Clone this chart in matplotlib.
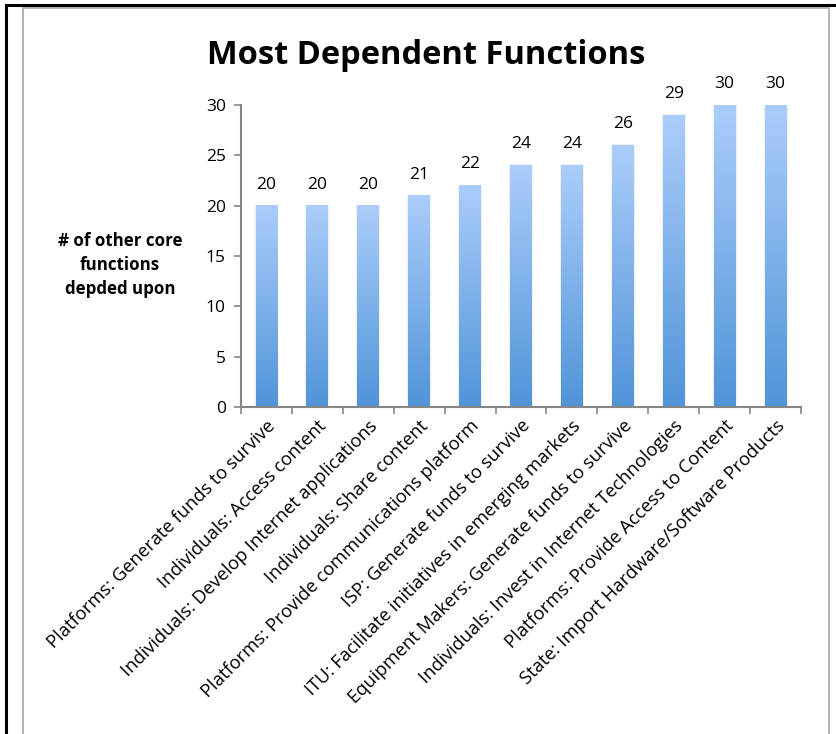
import matplotlib
matplotlib.use("Agg")
import matplotlib.pyplot as plt
import numpy as np
from matplotlib.colors import LinearSegmentedColormap
from matplotlib.patches import Rectangle

plt.rcParams['font.family'] = ['Open Sans', 'DejaVu Sans']

categories = ["Platforms: Generate funds to survive",
              "Individuals: Access content",
              "Individuals: Develop Internet applications",
              "Individuals: Share content",
              "Platforms: Provide communications platform",
              "ISP: Generate funds to survive",
              "ITU: Facilitate initiatives in emerging markets",
              "Equipment Makers: Generate funds to survive",
              "Individuals: Invest in Internet Technologies",
              "Platforms: Provide Access to Content",
              "State: Import Hardware/Software Products"]
values = [20, 20, 20, 21, 22, 24, 24, 26, 29, 30, 30]
yticks = [0, 5, 10, 15, 20, 25, 30]

fig = plt.figure(figsize=(8.37, 7.34), dpi=100)

# frame lines around the chart
fig.add_artist(plt.Line2D([6/837, 6/837], [0, 1-5/734], color='black', lw=2.2, transform=fig.transFigure))
fig.add_artist(plt.Line2D([6/837, 1], [1-5/734, 1-5/734], color='black', lw=2.2, transform=fig.transFigure))
fig.add_artist(Rectangle((23/837, -0.1), (829-23)/837, 1.1-8/734, fill=False,
                         edgecolor='#a6a6a6', lw=1.2, transform=fig.transFigure))

ax = fig.add_axes([241/837, 1-407/734, (801-241)/837, (407-105)/734])

cmap = LinearSegmentedColormap.from_list('barfade', ['#5094d8', '#abcdfb'])
grad = np.linspace(0, 1, 256).reshape(-1, 1)
x = np.arange(len(values))
w = 0.43
for xi, v in zip(x, values):
    # faint shadow
    ax.add_patch(Rectangle((xi - w/2 - 0.02, 0), w + 0.04, v + 0.1, color='#f0f0f0', zorder=1, lw=0))
    ax.imshow(grad, extent=[xi - w/2, xi + w/2, 0, v], origin='lower', cmap=cmap,
              aspect='auto', zorder=2, interpolation='bicubic')
    ax.text(xi, v + 1.3, str(v), ha='center', va='bottom', fontsize=12.5)

ax.set_xlim(-0.5, len(values) - 0.5)
ax.set_ylim(0, 30)
ax.set_yticks(yticks)
ax.set_xticks(np.arange(len(values) + 1) - 0.5, minor=True)
ax.set_xticks(x)
ax.set_xticklabels(categories, rotation=45, ha='right', rotation_mode='anchor', fontsize=13.2)
ax.tick_params(axis='x', which='major', length=0, pad=7)
ax.tick_params(axis='x', which='minor', length=5, color='#868686', width=1.2)
ax.tick_params(axis='y', length=5, color='#868686', width=1.2, labelsize=12.5, pad=6)
for s in ['top', 'right']:
    ax.spines[s].set_visible(False)
for s in ['left', 'bottom']:
    ax.spines[s].set_color('#868686')
    ax.spines[s].set_linewidth(1.5)

fig.text(426/837, 1-55/734, "Most Dependent Functions", ha='center', va='center',
         fontsize=23.5, fontweight='bold')
fig.text(120/837, 1-265/734, "# of other core\nfunctions\ndepded upon", ha='center', va='center',
         fontsize=12.2, fontweight='bold', linespacing=1.4)

fig.savefig("out.png", dpi=100)
